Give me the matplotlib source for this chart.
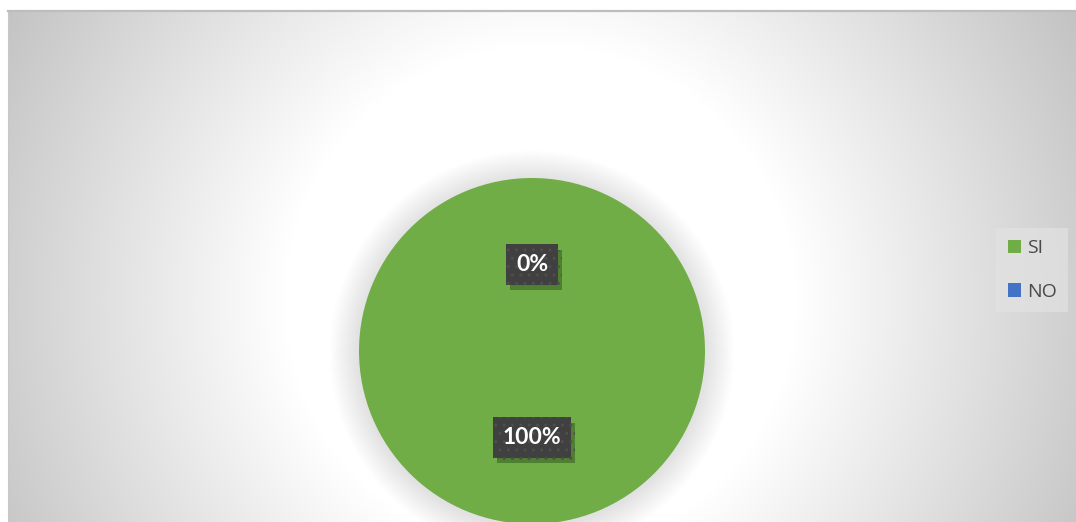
import numpy as np
import matplotlib
matplotlib.use("Agg")
import matplotlib.pyplot as plt
from matplotlib.patches import Circle
import matplotlib.patheffects as pe

# ---- data ----
categories = ["SI", "NO"]
values = [100, 0]
colors = ["#70AD47", "#4472C4"]

W, H = 1076, 522
fig = plt.figure(figsize=(W / 100, H / 100), dpi=100)
fig.patch.set_facecolor("white")

# ---- chart-area background (radial gradient) ----
x0, ytop = 8, 11
bg = fig.add_axes([x0 / W, 0, (W - x0) / W, (H - ytop) / H])
bw, bh = W - x0, H - ytop
yy, xx = np.mgrid[0:bh, 0:bw]
cx, cy = 540 - x0, 300 - ytop
d = np.hypot(xx - cx, (yy - cy) * 1.0)
t = np.clip((d - 255) / 370, 0, 1)
g = (255 - (255 - 192) * t) / 255.0
img = np.dstack([g, g, g])
bg.imshow(img, aspect="auto", extent=[0, bw, bh, 0], interpolation="bilinear")
bg.set_xlim(0, bw)
bg.set_ylim(bh, 0)
bg.set_xticks([])
bg.set_yticks([])
for s in ["right", "bottom"]:
    bg.spines[s].set_visible(False)
bg.spines["top"].set_color("#bdbdbd")
bg.spines["top"].set_linewidth(1.6)
bg.spines["left"].set_color("#c8c8c8")
bg.spines["left"].set_linewidth(0.8)

# ---- pie ----
pcx, pcy, r = 532, 351, 173
ax = fig.add_axes([(pcx - r) / W, (H - pcy - r) / H, 2 * r / W, 2 * r / H])
ax.set_facecolor("none")

# soft glow shadow behind the pie
n = 30
for k in range(n):
    rad = 1.0 + 0.17 * (k + 1) / n
    ax.add_patch(Circle((0, -0.01), rad, facecolor="black", alpha=0.0045,
                        edgecolor="none", zorder=0, clip_on=False))

wedges, _ = ax.pie(values, colors=colors, startangle=90, counterclock=False,
                   radius=1.0, wedgeprops=dict(linewidth=0, zorder=1))
for w in wedges:
    w.set_clip_on(False)
    w.set_zorder(1)
ax.set_xlim(-1, 1)
ax.set_ylim(-1, 1)
ax.set_aspect("equal")
ax.axis("off")

# labels (computed from wedge angles)
total = sum(values)
for w, v in zip(wedges, values):
    mid = np.deg2rad((w.theta1 + w.theta2) / 2)
    lx, ly = 0.5 * np.cos(mid), 0.5 * np.sin(mid)
    txt = f"{v / total * 100:.0f}%"
    tx = ax.text(lx, ly, txt, ha="center", va="center", fontsize=16.5,
                 fontweight="bold", family="Lato", color="white",
                 bbox=dict(boxstyle="square,pad=0.42", facecolor="#404040",
                           edgecolor="#4e4e4e", linewidth=0, hatch=".."), zorder=4)
    tx.get_bbox_patch().set_path_effects([
        pe.SimplePatchShadow(offset=(3, -4), shadow_rgbFace="#1f3a10", alpha=0.4),
        pe.Normal()])

# ---- legend ----
leg = fig.legend(wedges, categories, loc="center left",
                 bbox_to_anchor=(996 / W, 1 - 270 / H), borderaxespad=0,
                 frameon=True, fancybox=False, handlelength=0.68, handleheight=0.68,
                 handletextpad=0.3, labelspacing=1.3, borderpad=0.6,
                 prop=dict(family="Open Sans", size=14))
leg.get_frame().set_facecolor("#e2e2e2")
leg.get_frame().set_alpha(0.7)
leg.get_frame().set_edgecolor("none")
for t in leg.get_texts():
    t.set_color("#4a4a4a")

fig.savefig("out.png", dpi=100)
